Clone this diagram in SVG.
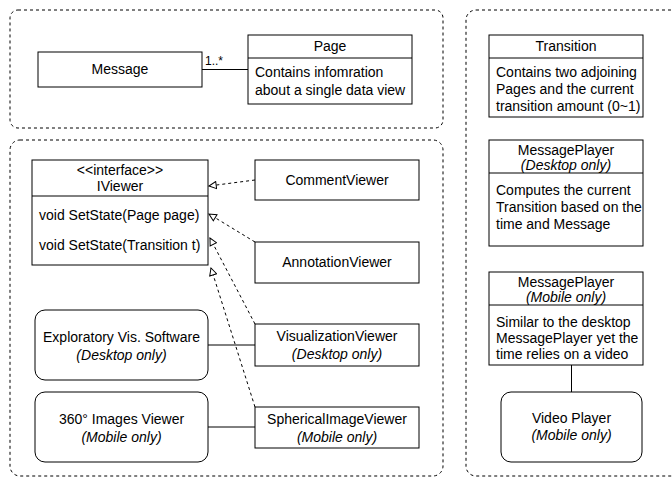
<svg xmlns="http://www.w3.org/2000/svg" width="672" height="477" viewBox="0 0 672 477">
<defs>
<style>
text{font-family:"Liberation Sans",Arial,sans-serif;font-size:14px;fill:#000}
.c{text-anchor:middle}
.i{font-style:italic}
.s{font-size:12px}
.box{fill:#fff;stroke:#000;stroke-width:1}
.grp{fill:none;stroke:#000;stroke-width:1;stroke-dasharray:3 3}
.ln{fill:none;stroke:#000;stroke-width:1}
.dash{fill:none;stroke:#000;stroke-width:1;stroke-dasharray:3 3}
</style>
<marker id="tri" viewBox="0 0 10 10" refX="9" refY="5" markerWidth="9" markerHeight="9" markerUnits="userSpaceOnUse" orient="auto">
<path d="M1,1 L9,5 L1,9 Z" fill="#fff" stroke="#000" stroke-width="1.1"/>
</marker>
</defs>
<rect width="672" height="477" fill="#fff"/>
<g id="containers">
<rect class="grp" x="10" y="10" width="433" height="118" rx="8"/>
<rect class="grp" x="10" y="140" width="433" height="336" rx="10"/>
<rect class="grp" x="466" y="10" width="230" height="466" rx="10"/>
</g>
<g id="connectors">
<line class="ln" x1="202" y1="69.5" x2="248" y2="69.5"/>
<text class="s" x="205" y="65">1..*</text>
<line class="dash" x1="255" y1="180" x2="209" y2="186" marker-end="url(#tri)"/>
<line class="dash" x1="255" y1="242" x2="209" y2="214" marker-end="url(#tri)"/>
<line class="dash" x1="255" y1="324" x2="210" y2="238" marker-end="url(#tri)"/>
<line class="dash" x1="255" y1="407" x2="211" y2="268" marker-end="url(#tri)"/>
<line class="ln" x1="208" y1="345" x2="255" y2="345" stroke-width="1.6"/>
<line class="ln" x1="208" y1="427" x2="255" y2="427"/>
<line class="ln" x1="571.5" y1="365" x2="571.5" y2="392"/>
</g>
<g id="message">
<rect class="box" x="38" y="52" width="164" height="35"/>
<text class="c" x="120" y="74">Message</text>
</g>
<g id="page">
<rect class="box" x="248" y="35" width="164" height="69"/>
<line class="ln" x1="248" y1="58" x2="412" y2="58"/>
<text class="c" x="330" y="51">Page</text>
<text x="255" y="77">Contains infomration</text>
<text x="255" y="95">about a single data view</text>
</g>
<g id="iviewer">
<rect class="box" x="32" y="160" width="176" height="105"/>
<line class="ln" x1="32" y1="196" x2="208" y2="196"/>
<text class="c" x="120" y="175">&lt;&lt;interface&gt;&gt;</text>
<text class="c" x="120" y="191">IViewer</text>
<text x="39" y="220">void SetState(Page page)</text>
<text x="39" y="250">void SetState(Transition t)</text>
</g>
<g id="commentviewer">
<rect class="box" x="255" y="160" width="164" height="40"/>
<text class="c" x="337" y="185">CommentViewer</text>
</g>
<g id="annotationviewer">
<rect class="box" x="255" y="242" width="164" height="41"/>
<text class="c" x="337" y="267">AnnotationViewer</text>
</g>
<g id="visualizationviewer">
<rect class="box" x="255" y="324" width="164" height="42"/>
<text class="c" x="337" y="341">VisualizationViewer</text>
<text class="c i" x="337" y="359">(Desktop only)</text>
</g>
<g id="sphericalimageviewer">
<rect class="box" x="255" y="407" width="164" height="41"/>
<text class="c" x="337" y="424">SphericalImageViewer</text>
<text class="c i" x="337" y="442">(Mobile only)</text>
</g>
<g id="exploratory">
<rect class="box" x="35" y="310" width="173" height="70" rx="10"/>
<text class="c" x="121.5" y="342">Exploratory Vis. Software</text>
<text class="c i" x="121.5" y="360">(Desktop only)</text>
</g>
<g id="images360">
<rect class="box" x="35" y="392" width="173" height="70" rx="10"/>
<text class="c" x="121.5" y="424">360° Images Viewer</text>
<text class="c i" x="121.5" y="442">(Mobile only)</text>
</g>
<g id="transition">
<rect class="box" x="489" y="35" width="154" height="82"/>
<line class="ln" x1="489" y1="58" x2="643" y2="58"/>
<text class="c" x="566" y="51">Transition</text>
<text x="496" y="77">Contains two adjoining</text>
<text x="496" y="94">Pages and the current</text>
<text x="496" y="111">transition amount (0~1)</text>
</g>
<g id="messageplayer-desktop">
<rect class="box" x="489" y="140" width="154" height="106"/>
<line class="ln" x1="489" y1="173" x2="643" y2="173"/>
<text class="c" x="566" y="155">MessagePlayer</text>
<text class="c i" x="566" y="170">(Desktop only)</text>
<text x="496" y="195">Computes the current</text>
<text x="496" y="212">Transition based on the</text>
<text x="496" y="229">time and Message</text>
</g>
<g id="messageplayer-mobile">
<rect class="box" x="489" y="272" width="154" height="93"/>
<line class="ln" x1="489" y1="305" x2="643" y2="305"/>
<text class="c" x="566" y="287">MessagePlayer</text>
<text class="c i" x="566" y="302">(Mobile only)</text>
<text x="496" y="327">Similar to the desktop</text>
<text x="496" y="343">MessagePlayer yet the</text>
<text x="496" y="359">time relies on a video</text>
</g>
<g id="videoplayer">
<rect class="box" x="501" y="392" width="141" height="70" rx="10"/>
<text class="c" x="571.5" y="423">Video Player</text>
<text class="c i" x="571.5" y="440">(Mobile only)</text>
</g>
</svg>
